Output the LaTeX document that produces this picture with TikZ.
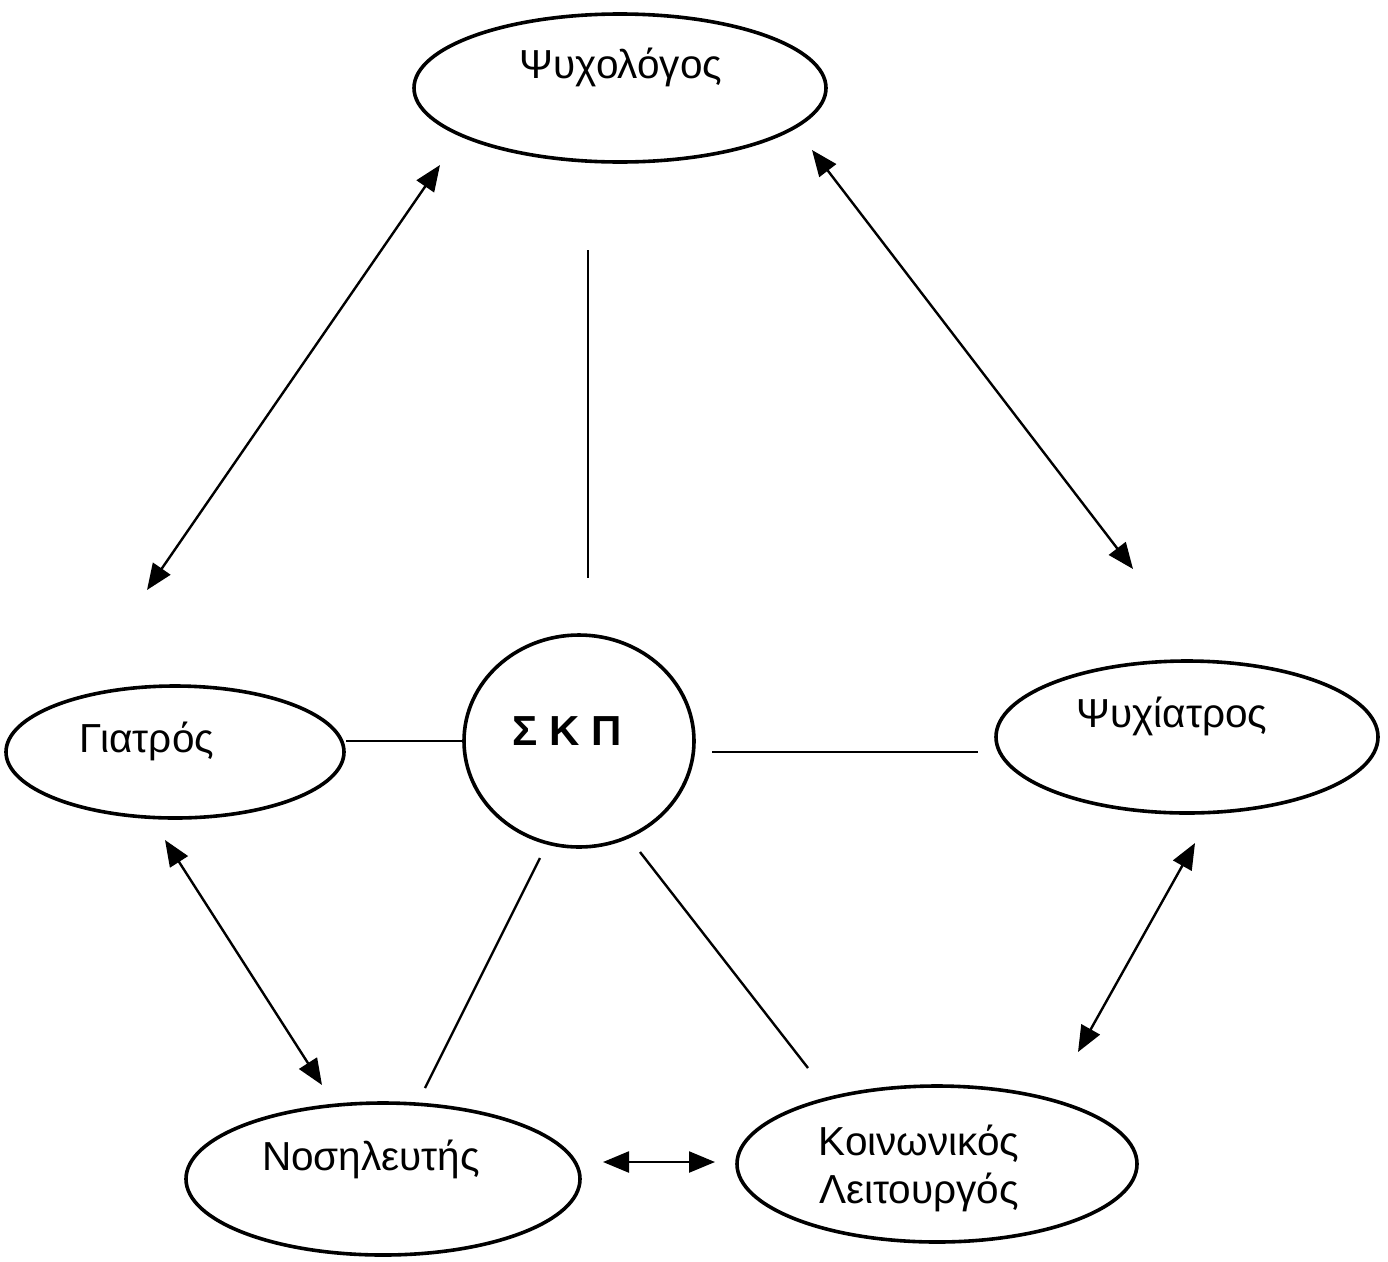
\documentclass[tikz,border=0pt]{standalone}
\usepackage{fontspec}
\setmainfont{Liberation Sans}
\usetikzlibrary{shapes.geometric,arrows.meta}
\begin{document}
\begin{tikzpicture}[x=1pt,y=-1pt,
  role/.style={draw, ellipse, line width=3.6pt, inner sep=0pt},
  hub/.style={draw, ellipse, line width=3.6pt, inner sep=0pt},
  lbl/.style={anchor=base, inner sep=0pt, font=\fontsize{40.5}{48}\selectfont},
  link/.style={line width=2.4pt},
  both/.style={line width=2.4pt, {Triangle[length=26pt,width=21pt]}-{Triangle[length=26pt,width=21pt]}}]
\useasboundingbox (0,0) rectangle (1388,1261);
% nodes
\node[role, minimum width=412pt, minimum height=148pt] (psy) at (620,88) {};
\node[role, minimum width=338pt, minimum height=132pt] (gia) at (175,752) {};
\node[role, minimum width=382pt, minimum height=152pt] (psi) at (1187,737) {};
\node[role, minimum width=394pt, minimum height=152pt] (nos) at (383,1179) {};
\node[role, minimum width=400pt, minimum height=156pt] (koi) at (937,1164) {};
\node[hub, minimum width=230pt, minimum height=212pt] (skp) at (579,741) {};
% labels
\node[lbl] (tpsy) at (621,78) {Ψυχολόγος};
\node[lbl] (tgia) at (147,752) {Γιατρός};
\node[lbl] (tpsi) at (1172,727) {Ψυχίατρος};
\node[lbl] (tnos) at (371,1170) {Νοσηλευτής};
\node[lbl] (tkoi1) at (919,1155) {Κοινωνικός};
\node[lbl] (tkoi2) at (919,1203) {Λειτουργός};
\node[anchor=base, inner sep=0pt, font=\fontsize{42}{48}\selectfont\bfseries] (tskp) at (567,745) {Σ Κ Π};
% connector ends
\coordinate (v1) at (588,250);
\coordinate (v2) at (588,578);
\coordinate (r1) at (712,752);
\coordinate (r2) at (978,752);
\coordinate (d1) at (540,858);
\coordinate (d2) at (425,1088);
\coordinate (e1) at (640,852);
\coordinate (e2) at (808,1068);
\coordinate (a1) at (440,165);
\coordinate (a2) at (147,590);
\coordinate (b1) at (812,150);
\coordinate (b2) at (1133,569);
\coordinate (c1) at (165,840);
\coordinate (c2) at (322,1085);
\coordinate (f1) at (1195,843);
\coordinate (f2) at (1078,1052);
\coordinate (g1) at (603,1162);
\coordinate (g2) at (715,1162);
% plain links
\draw[link] (skp.west) -- (skp.west -| gia.east);
\draw[link] (v1) -- (v2);
\draw[link] (r1) -- (r2);
\draw[link] (d1) -- (d2);
\draw[link] (e1) -- (e2);
% double arrows
\draw[both] (a1) -- (a2);
\draw[both] (b1) -- (b2);
\draw[both] (c1) -- (c2);
\draw[both] (f1) -- (f2);
\draw[both] (g1) -- (g2);
\end{tikzpicture}
\end{document}
